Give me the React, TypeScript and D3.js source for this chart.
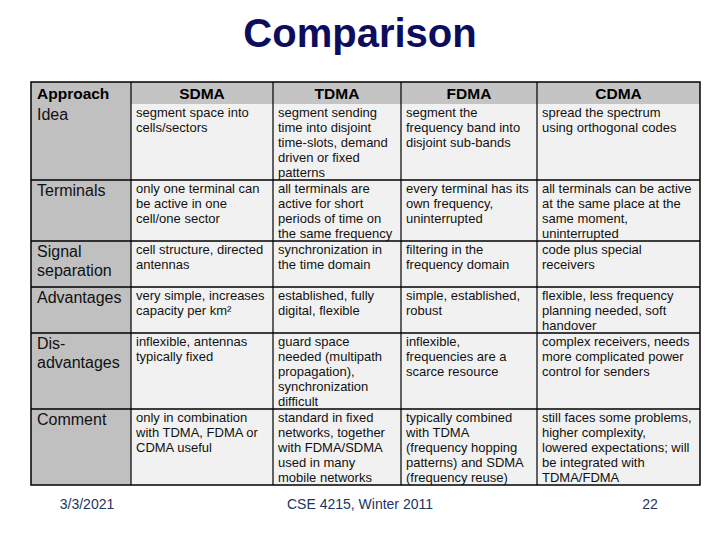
import React from 'react';
import * as d3 from 'd3';

const title = 'Comparison';
const approaches = ['SDMA', 'TDMA', 'FDMA', 'CDMA'];
const rowLabels = [
  ['Idea'],
  ['Terminals'],
  ['Signal', 'separation'],
  ['Advantages'],
  ['Dis-', 'advantages'],
  ['Comment'],
];
const sdmaCells = [
  ['segment space into', 'cells/sectors'],
  ['only one terminal can', 'be active in one', 'cell/one sector'],
  ['cell structure, directed', 'antennas'],
  ['very simple, increases', 'capacity per km²'],
  ['inflexible, antennas', 'typically fixed'],
  ['only in combination', 'with TDMA, FDMA or', 'CDMA useful'],
];
const tdmaCells = [
  ['segment sending', 'time into disjoint', 'time-slots, demand', 'driven or fixed', 'patterns'],
  ['all terminals are', 'active for short', 'periods of time on', 'the same frequency'],
  ['synchronization in', 'the time domain'],
  ['established, fully', 'digital, flexible'],
  ['guard space', 'needed (multipath', 'propagation),', 'synchronization', 'difficult'],
  ['standard in fixed', 'networks, together', 'with FDMA/SDMA', 'used in many', 'mobile networks'],
];
const fdmaCells = [
  ['segment the', 'frequency band into', 'disjoint sub-bands'],
  ['every terminal has its', 'own frequency,', 'uninterrupted'],
  ['filtering in the', 'frequency domain'],
  ['simple, established,', 'robust'],
  ['inflexible,', 'frequencies are a', 'scarce resource'],
  ['typically combined', 'with TDMA', '(frequency hopping', 'patterns) and SDMA', '(frequency reuse)'],
];
const cdmaCells = [
  ['spread the spectrum', 'using orthogonal codes'],
  ['all terminals can be active', 'at the same place at the', 'same moment,', 'uninterrupted'],
  ['code plus special', 'receivers'],
  ['flexible, less frequency', 'planning needed, soft', 'handover'],
  ['complex receivers, needs', 'more complicated power', 'control for senders'],
  ['still faces some problems,', 'higher complexity,', 'lowered expectations; will', 'be integrated with', 'TDMA/FDMA'],
];
const footerDate = '3/3/2021';
const footerCourse = 'CSE 4215, Winter 2011';
const footerPage = '22';

const W = 720;
const H = 540;
const font = '"Liberation Sans", Arial, sans-serif';
const columns = [sdmaCells, tdmaCells, fdmaCells, cdmaCells];
const colWidths = [100, 142, 128, 136, 163];
const lineH = 15;
const headerH = 22;

export default function App() {
  // row heights from the tallest cell in each row
  const rowHeights = rowLabels.map((_, i) => {
    const lines = d3.max(columns, (c) => c[i].length) as number;
    return Math.max(lines * lineH + 1, 46);
  });
  const rowEdges = [0, headerH, ...Array.from(d3.cumsum(rowHeights), (v) => v + headerH)];
  const total = rowEdges[rowEdges.length - 1];
  const y = d3.scaleLinear().domain([0, total]).range([82, 82 + total]);

  const colEdges = [0, ...Array.from(d3.cumsum(colWidths))];
  const x = d3.scaleLinear().domain([0, colEdges[colEdges.length - 1]]).range([31, 700]);

  const top = y(0);
  const bottom = y(total);
  const left = x(0);
  const right = x(colEdges[colEdges.length - 1]);

  return (
    <svg width={W} height={H} style={{ display: 'block', position: 'absolute', left: 0, top: 0 }}>
      <rect width={W} height={H} fill="#fff" />
      <text x={360} y={47} textAnchor="middle" fontFamily={font} fontWeight="bold" fontSize={40} fill="#0d0d5e">
        {title}
      </text>

      {/* light body cells */}
      <rect x={x(colEdges[1])} y={y(headerH)} width={right - x(colEdges[1])} height={bottom - y(headerH)} fill="#f1f1f1" />
      {/* header band and label column */}
      <rect x={left} y={top} width={right - left} height={y(headerH) - top} fill="#c4c4c4" />
      <rect x={left} y={top} width={x(colEdges[1]) - left} height={bottom - top} fill="#c0c0c0" />

      {/* horizontal rules */}
      {rowEdges.slice(2, -1).map((e, i) => (
        <line key={'h' + i} x1={left} x2={right} y1={y(e)} y2={y(e)} stroke="#000" strokeWidth={1.5} />
      ))}
      {/* vertical rules */}
      {colEdges.slice(1, -1).map((e, i) => (
        <line key={'v' + i} x1={x(e)} x2={x(e)} y1={top} y2={bottom} stroke="#000" strokeWidth={1.2} />
      ))}
      <rect x={left} y={top} width={right - left} height={bottom - top} fill="none" stroke="#000" strokeWidth={1.5} />

      {/* header */}
      <text x={left + 6} y={y(0) + 17} fontFamily={font} fontWeight="bold" fontSize={15.5} fill="#000">
        Approach
      </text>
      {approaches.map((a, j) => (
        <text
          key={a}
          x={(x(colEdges[j + 1]) + x(colEdges[j + 2])) / 2}
          y={y(0) + 17}
          textAnchor="middle"
          fontFamily={font}
          fontWeight="bold"
          fontSize={15.5}
          fill="#000"
        >
          {a}
        </text>
      ))}

      {/* row labels */}
      {rowLabels.map((lab, i) => (
        <text key={'l' + i} fontFamily={font} fontSize={16} fill="#111">
          {lab.map((t, k) => (
            <tspan key={k} x={left + 6} y={y(rowEdges[i + 1]) + 16 + k * 19}>
              {t}
            </tspan>
          ))}
        </text>
      ))}

      {/* cells */}
      {columns.map((col, j) =>
        col.map((cell, i) => (
          <text key={j + '-' + i} fontFamily={font} fontSize={13} fill="#111">
            {cell.map((t, k) => (
              <tspan key={k} x={x(colEdges[j + 1]) + 5} y={y(rowEdges[i + 1]) + 13 + k * lineH}>
                {t}
              </tspan>
            ))}
          </text>
        ))
      )}

      {/* footer */}
      <text x={87} y={509} textAnchor="middle" fontFamily={font} fontSize={14} fill="#1b3566">
        {footerDate}
      </text>
      <text x={360} y={509} textAnchor="middle" fontFamily={font} fontSize={14} fill="#1b3566">
        {footerCourse}
      </text>
      <text x={650} y={509} textAnchor="middle" fontFamily={font} fontSize={14} fill="#1b3566">
        {footerPage}
      </text>
    </svg>
  );
}
